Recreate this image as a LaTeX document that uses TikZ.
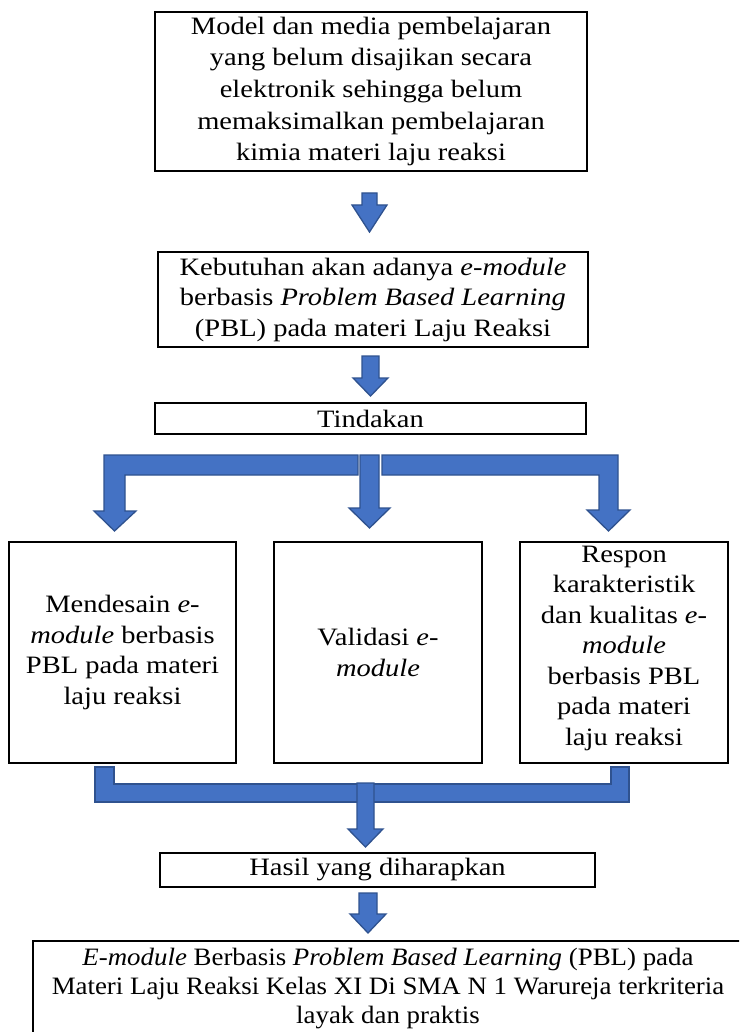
\documentclass[tikz,border=0pt]{standalone}
\usepackage{fontspec}
\setmainfont[FakeStretch=1.14]{Liberation Serif}
\newfontfamily\narrowserif[FakeStretch=1.075]{Liberation Serif}
\definecolor{arrowfill}{HTML}{4472C4}
\definecolor{arrowline}{HTML}{2F528F}
\begin{document}
\begin{tikzpicture}[x=1pt,y=-1pt,
  box/.style={draw=black, line width=2pt, rectangle, inner sep=0pt, align=center,
    font=\fontsize{25}{30.5}\selectfont},
  txt/.style={align=center, inner sep=0pt, font=\fontsize{25}{30.5}\selectfont},
  blockarrow/.style={fill=arrowfill, draw=arrowline, line width=1.3pt, line join=miter}]
\useasboundingbox (0,0) rectangle (739,1032);
\clip (0,0) rectangle (739,1032);
\fill[white] (0,0) rectangle (739,1032);

% boxes
\node[box, minimum width=432, minimum height=159, font=\fontsize{25}{31.7}\selectfont] (b1) at (371,91.5)
  {Model dan media pembelajaran\\yang belum disajikan secara\\elektronik sehingga belum\\memaksimalkan pembelajaran\\kimia materi laju reaksi};
\node[box, minimum width=430, minimum height=95] (b2) at (373,299.5)
  {Kebutuhan akan adanya \textit{e-module}\\berbasis \textit{Problem Based Learning}\\(PBL) pada materi Laju Reaksi};
\node[box, minimum width=431, minimum height=31] (b3) at (370.5,418.5) {Tindakan};
\node[box, minimum width=227, minimum height=221] (b4) at (122.5,652.5)
  {Mendesain \textit{e-}\\\textit{module} berbasis\\PBL pada materi\\laju reaksi};
\node[box, minimum width=208, minimum height=221] (b5) at (378,652.5)
  {Validasi \textit{e-}\\\textit{module}};
\node[box, minimum width=208, minimum height=221] (b6) at (624,652.5) {};
\node[txt] (t6) at (624,648)
  {Respon\\karakteristik\\dan kualitas \textit{e-}\\\textit{module}\\berbasis PBL\\pada materi\\laju reaksi};
\node[box, minimum width=435, minimum height=34] (b7) at (377.5,870) {Hasil yang diharapkan};
\node[box, minimum width=712, minimum height=110] (b8) at (389,996) {};
\node[txt, font=\fontsize{25}{29}\narrowserif] (t8) at (388,989)
  {\textit{E-module} Berbasis \textit{Problem Based Learning} (PBL) pada\\Materi Laju Reaksi Kelas XI Di SMA N 1 Warureja terkriteria\\layak dan praktis};

% arrow b1 -> b2
\draw[blockarrow] (362,193) -- (377,193) -- (377,205) -- (387,205) -- (369.5,232)
  -- (352,205) -- (362,205) -- cycle;
% arrow b2 -> b3
\draw[blockarrow] (362,356) -- (379,356) -- (379,378) -- (388,378) -- (370.5,396)
  -- (353,378) -- (362,378) -- cycle;
% branching arrows from b3
\draw[blockarrow] (358,455) -- (104,455) -- (104,511) -- (94,511) -- (114.5,531)
  -- (136,511) -- (125,511) -- (125,475) -- (358,475) -- cycle;
\draw[blockarrow] (382,455) -- (618,455) -- (618,510) -- (630,510) -- (608.5,531)
  -- (587,510) -- (599,510) -- (599,475) -- (382,475) -- cycle;
\draw[blockarrow] (360,455) -- (379,455) -- (379,508) -- (390,508) -- (369.5,528)
  -- (349,508) -- (360,508) -- cycle;
% joining bracket
\draw[blockarrow] (95,767) -- (114,767) -- (114,784) -- (611,784) -- (611,767)
  -- (629,767) -- (629,802) -- (95,802) -- cycle;
\draw[blockarrow] (357,783) -- (374,783) -- (374,829) -- (383,829) -- (365.5,847)
  -- (348,829) -- (357,829) -- cycle;
% arrow b7 -> b8
\draw[blockarrow] (359,893) -- (377,893) -- (377,914) -- (386,914) -- (368,933)
  -- (350,914) -- (359,914) -- cycle;
\end{tikzpicture}
\end{document}
